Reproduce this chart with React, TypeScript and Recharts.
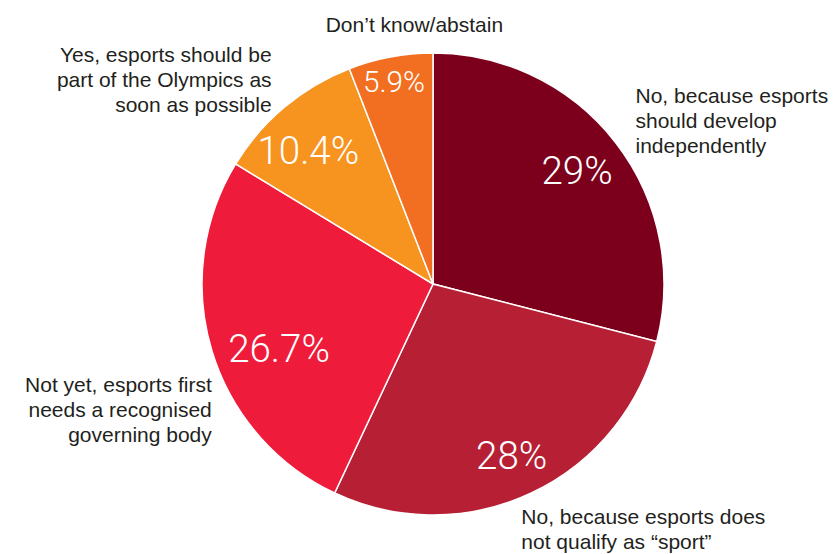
import React from "react";
import { PieChart, Pie, Cell } from "recharts";

const CATEGORIES = [
  ["No, because esports", "should develop", "independently"],
  ["No, because esports does", "not qualify as \u201csport\u201d"],
  ["Not yet, esports first", "needs a recognised", "governing body"],
  ["Yes, esports should be", "part of the Olympics as", "soon as possible"],
  ["Don\u2019t know/abstain"],
];

const VALUES = [29, 28, 26.7, 10.4, 5.9];

const VALUE_LABELS = ["29%", "28%", "26.7%", "10.4%", "5.9%"];

const COLORS = ["#7c001b", "#b72034", "#ee1c3a", "#f7931f", "#f26f22"];

// label placement, relative to the slice's mid-angle point on the rim
const OUTER = [
  { anchor: "start", dx: 20, dy: -39 },
  { anchor: "start", dx: -10, dy: 31 },
  { anchor: "end", dx: 0, dy: 41 },
  { anchor: "end", dx: -13, dy: -45 },
  { anchor: "middle", dx: 24, dy: -25 },
];

// inner value labels, at 0.8 of the radius plus a nudge
const INNER = [
  { dx: -2, dy: 1, size: 35 },
  { dx: 0, dy: 5, size: 35 },
  { dx: 23, dy: 12, size: 35 },
  { dx: -6, dy: 9, size: 35 },
  { dx: -5, dy: -20, size: 27 },
];

const data = CATEGORIES.map((lines, i) => ({
  name: lines.join(" "),
  value: VALUES[i],
}));

const RAD = Math.PI / 180;
const LINE_H = 25;

const renderLabel = (props: any) => {
  const { cx, cy, midAngle, outerRadius, index } = props;
  const cos = Math.cos(-midAngle * RAD);
  const sin = Math.sin(-midAngle * RAD);

  const inner = INNER[index];
  const ir = outerRadius * 0.8;
  const ix = cx + ir * cos + inner.dx;
  const iy = cy + ir * sin + inner.dy + inner.size * 0.36;

  const outer = OUTER[index];
  const ox = cx + outerRadius * cos + outer.dx;
  const oy = cy + outerRadius * sin + outer.dy;

  return (
    <g key={`label-${index}`}>
      <text
        x={ix}
        y={iy}
        fill="#ffffff"
        textAnchor="middle"
        fontFamily="Roboto, 'Liberation Sans', sans-serif"
        fontWeight={300}
        fontSize={inner.size * 1.1}
      >
        {VALUE_LABELS[index]}
      </text>
      <text
        x={ox}
        y={oy}
        fill="#231f20"
        textAnchor={outer.anchor as any}
        fontFamily="'Liberation Sans', Arial, sans-serif"
        fontSize={21}
      >
        {CATEGORIES[index].map((line, j) => (
          <tspan key={j} x={ox} y={oy + j * LINE_H}>
            {line}
          </tspan>
        ))}
      </text>
    </g>
  );
};

export default function App() {
  return (
    <div style={{ position: "absolute", left: 0, top: 0, background: "#fff" }}>
      <PieChart
        width={836}
        height={554}
        margin={{ top: 0, right: 0, bottom: 0, left: 0 }}
      >
        <Pie
          data={data}
          dataKey="value"
          cx={433}
          cy={284}
          outerRadius={231}
          startAngle={90}
          endAngle={-270}
          stroke="#ffffff"
          strokeWidth={1.5}
          labelLine={false}
          label={renderLabel}
          isAnimationActive={false}
        >
          {data.map((d, i) => (
            <Cell key={`cell-${i}`} fill={COLORS[i]} />
          ))}
        </Pie>
      </PieChart>
    </div>
  );
}
